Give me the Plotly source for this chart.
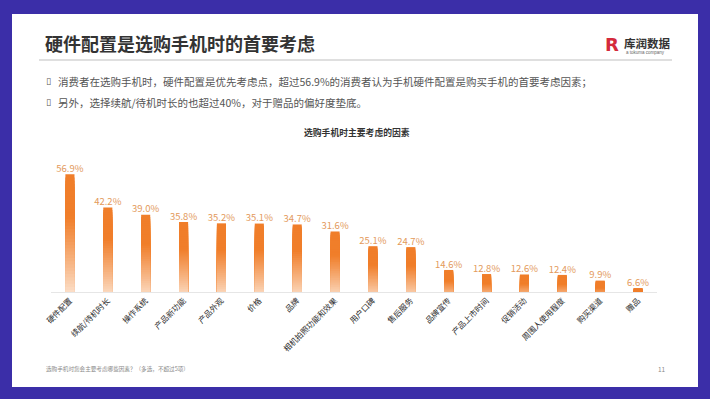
import plotly.graph_objects as go

categories = ["硬件配置", "续航/待机时长", "操作系统", "产品新功能", "产品外观", "价格", "品牌",
              "相机拍照功能和效果", "用户口碑", "售后服务", "品牌宣传", "产品上市时间", "促销活动",
              "周围人使用程度", "购买渠道", "赠品"]
values = [56.9, 42.2, 39.0, 35.8, 35.2, 35.1, 34.7, 31.6, 25.1, 24.7, 14.6, 12.8, 12.6, 12.4, 9.9, 6.6]
labels = [f"{v:.1f}%" for v in values]

W, H = 710, 399
FONT = "Noto Sans CJK SC"
ORANGE = (240, 126, 42)
PALE = (254, 242, 232)

# plot area in pixels
L, R, T, B = 51, 657, 150, 292


def px(x):
    return (x - L) / (R - L)


def py(y):
    return (B - y) / (B - T)


fig = go.Figure()

# gradient bars: overlaid bars of decreasing length, each adding a slice colour
N = 40
for i in range(N):
    frac = (N - i) / N
    t = frac - 0.5 / N
    f = min(1.0, (t * 1.5) ** 0.85)
    c = tuple(round(PALE[k] + (ORANGE[k] - PALE[k]) * f) for k in range(3))
    fig.add_trace(go.Bar(
        x=categories,
        y=[v * frac for v in values],
        width=0.24,
        marker=dict(color=f"rgb{c}", line=dict(width=0)),
        hoverinfo="skip",
        showlegend=False,
    ))

fig.add_trace(go.Scatter(
    x=categories, y=values, text=labels, mode="text",
    textposition="top center",
    textfont=dict(family=FONT, size=9.5, color="#E39A5C"),
    hoverinfo="skip", showlegend=False, cliponaxis=False,
))


def note(text, x, y, size, color="#555555", anchor="left", family=FONT):
    return dict(text=text, x=px(x), y=py(y), xref="paper", yref="paper",
                xanchor=anchor, yanchor="middle", showarrow=False,
                font=dict(family=family, size=size, color=color))


fig.update_layout(
    width=W, height=H,
    barmode="overlay",
    paper_bgcolor="#3B2EA8",
    plot_bgcolor="rgba(0,0,0,0)",
    margin=dict(l=L, r=W - R, t=T, b=H - B, autoexpand=False),
    font=dict(family=FONT),
    xaxis=dict(
        type="category", range=[-0.5, 15.5], automargin=False,
        tickangle=-45, tickfont=dict(family=FONT, size=8, color="#2a2a2a"),
        showline=True, linecolor="#e6e6e6", linewidth=1,
        ticks="", showgrid=False, zeroline=False,
    ),
    yaxis=dict(range=[4.86, 67.6], visible=False, showgrid=False, zeroline=False),
    shapes=[
        dict(type="rect", xref="paper", yref="paper", x0=px(12), x1=px(698), y0=py(387), y1=py(14),
             fillcolor="#FFFFFF", line=dict(width=0), layer="below"),
        dict(type="line", xref="paper", yref="paper", x0=px(39), x1=px(672), y0=py(60), y1=py(60),
             line=dict(color="#d4d4d4", width=1.5), layer="below"),
    ],
    annotations=[
        note("<b>硬件配置是选购手机时的首要考虑</b>", 43, 43, 18, "#333333"),
        note("<b>R</b>", 612, 44, 18, "#D42A3C", "center", "DejaVu Sans"),
        note("<b>库润数据</b>", 622, 43, 11.5, "#333333"),
        note("a tokuma company", 624, 52.5, 4.5, "#666666", family="Liberation Sans"),
        note("▯", 48, 81, 9, "#555555", "center", "DejaVu Sans"),
        note("消费者在选购手机时，硬件配置是优先考虑点，超过56.9%的消费者认为手机硬件配置是购买手机的首要考虑因素；",
             56, 81, 10.5),
        note("▯", 48, 102, 9, "#555555", "center", "DejaVu Sans"),
        note("另外，选择续航/待机时长的也超过40%，对于赠品的偏好度垫底。", 56, 102, 10.5),
        note("<b>选购手机时主要考虑的因素</b>", 357, 132, 8.8, "#333333", "center"),
        note("选购手机时您会主要考虑哪些因素？（多选，不超过5项）", 44, 369, 5.6, "#8a8a8a"),
        note("11", 662, 369, 6.5, "#8a8a8a", "center"),
    ],
)

fig.write_html("out.html", config={"displayModeBar": False},
               post_script="document.body.style.margin='0';")
